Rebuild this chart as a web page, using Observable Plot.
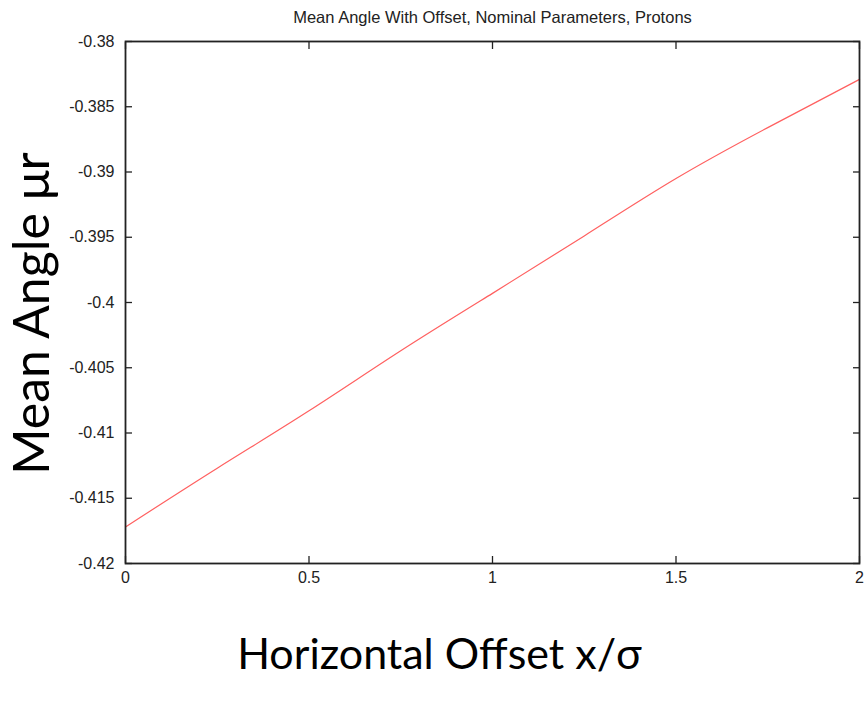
<!DOCTYPE html>
<html>
<head>
<meta charset="utf-8">
<script src="https://cdn.jsdelivr.net/npm/d3@7"></script>
<script src="https://cdn.jsdelivr.net/npm/@observablehq/plot@0.6"></script>
<style>
  html, body { margin: 0; padding: 0; background: #fff; }
  #chart svg { display: block; }
</style>
</head>
<body>
<div id="chart"></div>
<script>
// Data
const offsets = [0, 0.25, 0.5, 0.75, 1, 1.25, 1.5, 1.75, 2];
const meanAngles = [-0.4172, -0.4127, -0.4083, -0.4037, -0.3993, -0.3949, -0.3905, -0.3866, -0.3829];
const xTicks = [0, 0.5, 1, 1.5, 2];
const yTicks = [-0.42, -0.415, -0.41, -0.405, -0.4, -0.395, -0.39, -0.385, -0.38];
const titleText = "Mean Angle With Offset, Nominal Parameters, Protons";
const xLabel = "Horizontal Offset x/σ";
const yLabel = "Mean Angle μr";

const data = offsets.map((x, i) => ({x, y: meanAngles[i]}));
const fmt = d => String(+d.toFixed(3));
const axisColor = "#222";

const chart = Plot.plot({
  width: 865,
  height: 706,
  marginLeft: 125,
  marginRight: 6,
  marginTop: 41,
  marginBottom: 143,
  style: {fontFamily: "'Liberation Sans', Arial, sans-serif", fontSize: "16px", background: "#fff", color: "#222"},
  x: {domain: [0, 2]},
  y: {domain: [-0.42, -0.38]},
  marks: [
    Plot.line(data, {x: "x", y: "y", stroke: "#ff6060", strokeWidth: 1.2, curve: "natural"}),
    Plot.frame({stroke: axisColor, strokeWidth: 1.8}),
    // tick labels
    Plot.axisX(xTicks, {anchor: "bottom", tickSize: 0, tickPadding: 8, tickFormat: fmt, label: null, fill: "#222"}),
    Plot.axisY(yTicks, {anchor: "left", tickSize: 0, tickPadding: 11, tickFormat: fmt, label: null, fill: "#222"}),
    // inward ticks on all four sides
    Plot.axisX(xTicks, {anchor: "bottom", tickSize: 7, dy: -7, tickFormat: () => "", label: null, stroke: axisColor, strokeWidth: 1.3}),
    Plot.axisX(xTicks, {anchor: "top", tickSize: 7, dy: 7, tickFormat: () => "", label: null, stroke: axisColor, strokeWidth: 1.3}),
    Plot.axisY(yTicks, {anchor: "left", tickSize: 7, dx: 7, tickFormat: () => "", label: null, stroke: axisColor, strokeWidth: 1.3}),
    Plot.axisY(yTicks, {anchor: "right", tickSize: 7, dx: -7, tickFormat: () => "", label: null, stroke: axisColor, strokeWidth: 1.3}),
    // title and axis labels
    Plot.text([titleText], {text: d => d, frameAnchor: "top", dy: -24, fontSize: 16.5, lineAnchor: "middle", fill: "#222"}),
    Plot.text([xLabel], {text: d => d, frameAnchor: "bottom", dx: -53, dy: 92, fontSize: 43, lineAnchor: "middle", textAnchor: "middle", fontFamily: "Lato, 'Open Sans', sans-serif", fill: "#000"}),
    Plot.text([yLabel], {text: d => d, frameAnchor: "left", dx: -93, dy: 11, rotate: -90, fontSize: 50, lineAnchor: "middle", textAnchor: "middle", fontFamily: "Lato, 'Open Sans', sans-serif", fill: "#000"})
  ]
});
document.getElementById("chart").appendChild(chart);
</script>
</body>
</html>
